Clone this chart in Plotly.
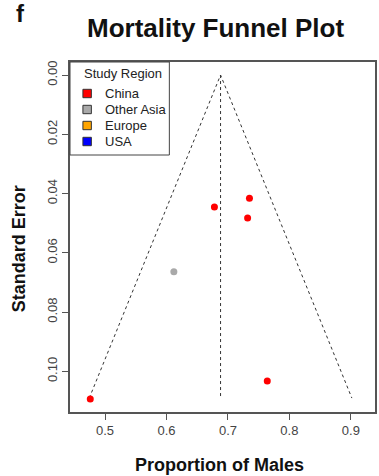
import plotly.graph_objects as go

# ---- data ----
china_prop = [0.476, 0.678, 0.735, 0.732, 0.764]
china_se = [0.1093, 0.0445, 0.0416, 0.0482, 0.1032]
asia_prop = [0.612]
asia_se = [0.0664]

pooled_estimate = 0.688
se_max = 0.109
z = 1.96

legend_labels = ["China", "Other Asia", "Europe", "USA"]
legend_colors = ["#FF0000", "#A9A9A9", "#FFA500", "#0000FF"]

x_ticks = [0.5, 0.6, 0.7, 0.8, 0.9]
y_ticks = [0.00, 0.02, 0.04, 0.06, 0.08, 0.10]

# ---- layout geometry (pixels) ----
W, H = 379, 476
L, R, T, B = 70, 377, 62, 412


def px(xp):
    return (xp - L) / (R - L)


def py(yp):
    return (B - yp) / (B - T)


FONT = "Arial, Liberation Sans, sans-serif"

fig = go.Figure()

# funnel lines
fig.add_trace(go.Scatter(
    x=[pooled_estimate - z * se_max, pooled_estimate, pooled_estimate + z * se_max],
    y=[se_max, 0, se_max],
    mode="lines", line=dict(color="#333333", width=1, dash="dot"),
    showlegend=False, hoverinfo="skip"))
fig.add_trace(go.Scatter(
    x=[pooled_estimate, pooled_estimate], y=[0, se_max],
    mode="lines", line=dict(color="#333333", width=1, dash="dot"),
    showlegend=False, hoverinfo="skip"))

fig.add_trace(go.Scatter(x=china_prop, y=china_se, mode="markers",
                         marker=dict(color=legend_colors[0], size=7),
                         name="China", showlegend=False))
fig.add_trace(go.Scatter(x=asia_prop, y=asia_se, mode="markers",
                         marker=dict(color=legend_colors[1], size=7),
                         name="Other Asia", showlegend=False))

shapes = []
annotations = []

# legend box
shapes.append(dict(type="rect", xref="paper", yref="paper",
                   x0=px(70), x1=px(170), y0=py(155), y1=py(62),
                   line=dict(color="#444444", width=1), fillcolor="white", layer="above"))
annotations.append(dict(text="Study Region", xref="paper", yref="paper",
                        x=px(82), y=py(73.5), xanchor="left", yanchor="middle",
                        showarrow=False, font=dict(family=FONT, size=13, color="#222")))
for i, (lab, col) in enumerate(zip(legend_labels, legend_colors)):
    yc = 93.5 + 16 * i
    shapes.append(dict(type="rect", xref="paper", yref="paper",
                       x0=px(83), x1=px(91.5), y0=py(yc + 4.2), y1=py(yc - 4.2),
                       line=dict(color="#333333", width=1), fillcolor=col, layer="above"))
    annotations.append(dict(text=lab, xref="paper", yref="paper",
                            x=px(103), y=py(yc), xanchor="left", yanchor="middle",
                            showarrow=False, font=dict(family=FONT, size=13, color="#222")))

# titles
annotations.append(dict(text="<b>Mortality Funnel Plot</b>", xref="paper", yref="paper",
                        x=px(216), y=py(28), xanchor="center", yanchor="middle",
                        showarrow=False, font=dict(family=FONT, size=26, color="#111")))
annotations.append(dict(text="<b>f</b>", xref="paper", yref="paper",
                        x=px(20), y=py(14), xanchor="center", yanchor="middle",
                        showarrow=False, font=dict(family=FONT, size=24, color="#111")))
annotations.append(dict(text="<b>Proportion of Males</b>", xref="paper", yref="paper",
                        x=px(220), y=py(465), xanchor="center", yanchor="middle",
                        showarrow=False, font=dict(family=FONT, size=18, color="#111")))
annotations.append(dict(text="<b>Standard Error</b>", xref="paper", yref="paper",
                        x=px(19), y=py(249), xanchor="center", yanchor="middle",
                        textangle=-90,
                        showarrow=False, font=dict(family=FONT, size=18, color="#111")))

fig.update_layout(
    width=W, height=H,
    margin=dict(l=L, r=W - R, t=T, b=H - B),
    plot_bgcolor="white", paper_bgcolor="white",
    showlegend=False,
    shapes=shapes, annotations=annotations,
    font=dict(family=FONT),
)
fig.update_xaxes(range=[0.443, 0.9393], tickvals=x_ticks, tickformat=".1f",
                 showgrid=False, zeroline=False,
                 showline=True, mirror=True, linecolor="#555", linewidth=1.5,
                 ticks="outside", ticklen=6, tickcolor="#555", tickwidth=1,
                 tickfont=dict(family=FONT, size=13, color="#444"))
fig.update_yaxes(range=[0.1137, -0.0044], tickvals=y_ticks, tickformat=".2f",
                 showgrid=False, zeroline=False,
                 showline=True, mirror=True, linecolor="#555", linewidth=1.5,
                 ticks="outside", ticklen=6, tickcolor="#555", tickwidth=1,
                 tickangle=-90,
                 tickfont=dict(family=FONT, size=13, color="#444"))

fig.write_html("out.html")
